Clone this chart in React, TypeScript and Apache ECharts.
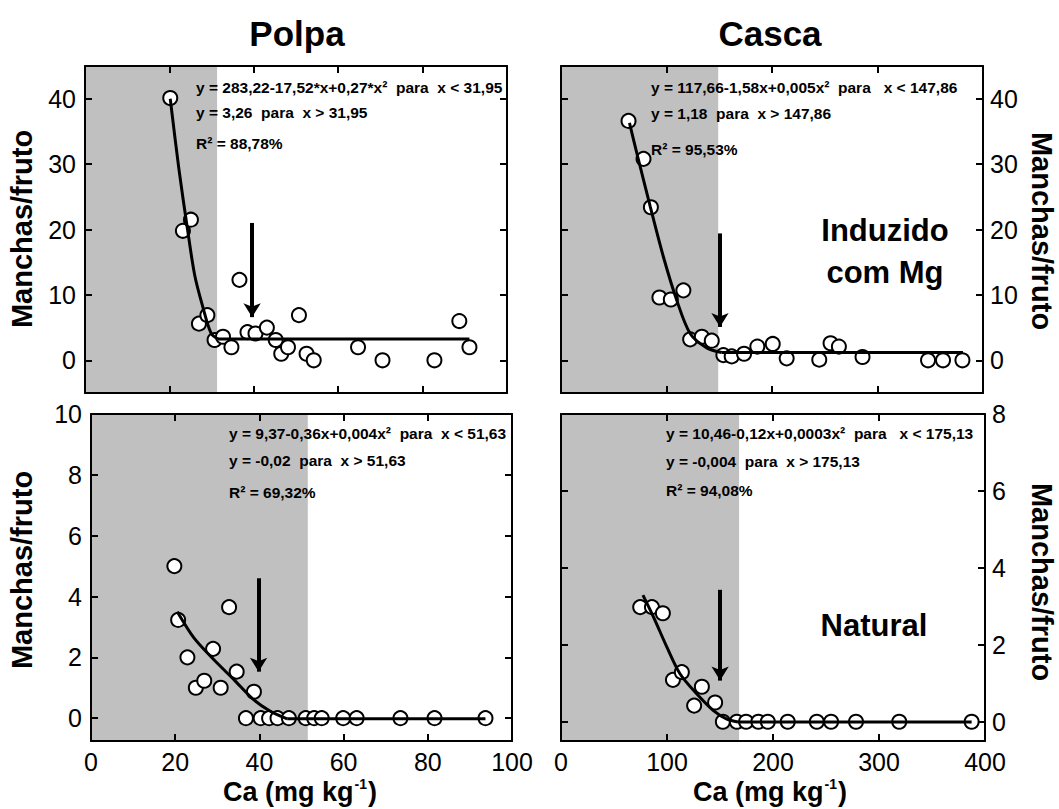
import React, { useEffect, useRef } from "react";
import * as echarts from "echarts";

// ---------- data ----------
const polpaMgX = [20.2, 23.2, 25.1, 27.0, 29.0, 30.7, 32.7, 34.7, 36.6, 38.5, 40.4, 43.1, 45.2, 46.5, 48.1, 50.7, 52.5, 54.2, 64.7, 70.5, 82.8, 88.7, 91.1];
const polpaMgY = [40.1, 19.8, 21.5, 5.6, 6.9, 3.1, 3.6, 2.0, 12.3, 4.3, 4.1, 5.0, 3.1, 1.0, 2.0, 6.9, 1.0, 0, 2.0, 0, 0, 6.0, 2.0];
const polpaMgFitX = [20.2, 22.2, 24.3, 26.0, 27.9, 29.9, 31.5];
const polpaMgFitY = [40, 29.5, 20, 13, 8.2, 4.1, 3.26];
const polpaMgPlateau = [31.5, 91.1, 3.26];

const cascaMgX = [64.0, 78.2, 85.2, 93.3, 104.1, 116.0, 122.4, 133.5, 142.9, 153.9, 161.8, 173.5, 186.1, 200.7, 213.9, 244.8, 255.5, 263.4, 285.8, 347.9, 362.1, 380.5];
const cascaMgY = [36.6, 30.8, 23.4, 9.6, 9.3, 10.7, 3.2, 3.6, 3.0, 0.8, 0.6, 1.0, 2.1, 2.5, 0.3, 0.1, 2.6, 2.1, 0.5, 0, 0, 0];
const cascaMgFitX = [64.9, 72.6, 84.6, 97.1, 109.7, 122.4, 138.2, 152.4];
const cascaMgFitY = [36.3, 31.2, 23.5, 15.8, 9.2, 4.1, 1.9, 1.18];
const cascaMgPlateau = [152.4, 381, 1.18];

const polpaNatX = [19.8, 20.7, 22.9, 24.9, 26.9, 29.0, 30.8, 32.8, 34.6, 38.7, 36.8, 40.3, 42.3, 44.3, 47.0, 51.0, 53.0, 54.8, 59.9, 63.1, 73.5, 81.6, 93.7];
const polpaNatY = [5.0, 3.23, 2.0, 1.0, 1.23, 2.28, 1.0, 3.65, 1.53, 0.87, 0, 0, 0, 0, 0, 0, 0, 0, 0, 0, 0, 0, 0];
const polpaNatFitX = [20.5, 24.5, 29.2, 34.0, 38.7, 42.7, 46.6];
const polpaNatFitY = [3.5, 2.63, 1.92, 1.26, 0.6, 0.22, -0.02];
const polpaNatPlateau = [46.6, 93.7, -0.02];

const cascaNatX = [74.7, 85.8, 96.1, 105.6, 114.0, 132.9, 125.6, 145.4, 152.7, 165.9, 174.6, 186.2, 195.1, 213.9, 241.3, 254.8, 278.3, 319.1, 387.4];
const cascaNatY = [2.98, 2.98, 2.82, 1.09, 1.29, 0.91, 0.42, 0.5, 0, 0, 0, 0, 0, 0, 0, 0, 0, 0, 0];
const cascaNatFitX = [77.3, 87.3, 99.9, 112.4, 128.2, 143.8, 156.5, 167];
const cascaNatFitY = [3.29, 2.72, 1.94, 1.24, 0.72, 0.29, 0.07, -0.004];
const cascaNatPlateau = [167, 387.4, -0.004];

// shaded region end (x), arrow [x, yStart, yEnd]
const shadeEnds = [31.3, 149, 51.5, 168];
const arrows = [
  [39.6, 21, 6.6],
  [150.7, 19.4, 5.1],
  [39.8, 4.6, 1.53],
  [150.1, 3.43, 1.07],
];

// axis ranges and ticks
const xMaxs = [100, 400, 100, 400];
const xIntervals = [20, 100, 20, 100];
const yMins = [-5, -5, -0.75, -0.5];
const yMaxs = [45, 45, 10, 8];
const yTicks = [
  [0, 10, 20, 30, 40],
  [0, 10, 20, 30, 40],
  [0, 2, 4, 6, 8, 10],
  [0, 2, 4, 6, 8],
];

// texts
const titles = ["Polpa", "Casca"];
const yTitle = "Manchas/fruto";
const equations = [
  ["y = 283,22-17,52*x+0,27*x²  para  x < 31,95", "y = 3,26  para  x > 31,95", "R² = 88,78%"],
  ["y = 117,66-1,58x+0,005x²  para   x < 147,86", "y = 1,18  para  x > 147,86", "R² = 95,53%"],
  ["y = 9,37-0,36x+0,004x²  para  x < 51,63", "y = -0,02  para  x > 51,63", "R² = 69,32%"],
  ["y = 10,46-0,12x+0,0003x²  para   x < 175,13", "y = -0,004  para  x > 175,13", "R² = 94,08%"],
];
const treatmentLabels = ["Induzido\ncom Mg", "Natural"];

const FONT = "'Liberation Sans', Arial, Helvetica, sans-serif";

const panelsData = [
  { x: polpaMgX, y: polpaMgY, fx: polpaMgFitX, fy: polpaMgFitY, p: polpaMgPlateau },
  { x: cascaMgX, y: cascaMgY, fx: cascaMgFitX, fy: cascaMgFitY, p: cascaMgPlateau },
  { x: polpaNatX, y: polpaNatY, fx: polpaNatFitX, fy: polpaNatFitY, p: polpaNatPlateau },
  { x: cascaNatX, y: cascaNatY, fx: cascaNatFitX, fy: cascaNatFitY, p: cascaNatPlateau },
];

// layout (px)
const grids = [
  { left: 85, top: 66, width: 422, height: 327 },
  { left: 561, top: 66, width: 422, height: 327 },
  { left: 91, top: 414, width: 421, height: 327 },
  { left: 561, top: 414, width: 424, height: 327 },
];
const eqPos = [
  { x: 196, ys: [87, 112.5, 143.5] },
  { x: 651, ys: [87, 113, 149] },
  { x: 229, ys: [433, 460, 492] },
  { x: 666, ys: [433, 461, 490] },
];

function buildOption() {
  const axisLineStyle = { color: "#000", width: 2 };
  const xAxis: any[] = [];
  const yAxis: any[] = [];
  const series: any[] = [];

  grids.forEach((g, i) => {
    const bottomRow = i >= 2;
    const rightCol = i % 2 === 1;
    const baseX = {
      gridIndex: i,
      type: "value",
      min: 0,
      max: xMaxs[i],
      interval: xIntervals[i],
      splitLine: { show: false },
      axisLine: { show: true, onZero: false, lineStyle: axisLineStyle },
      axisTick: { show: true, inside: true, length: 7, lineStyle: { color: "#000", width: 2 } },
      z: 10,
    };
    xAxis.push({
      ...baseX,
      position: "bottom",
      axisLabel: {
        show: bottomRow,
        color: "#000",
        fontSize: 25,
        fontFamily: FONT,
        margin: 8,
        showMinLabel: true,
        showMaxLabel: true,
      },
    });
    xAxis.push({ ...baseX, position: "top", axisLabel: { show: false } });

    const baseY = {
      gridIndex: i,
      type: "value",
      min: yMins[i],
      max: yMaxs[i],
      splitLine: { show: false },
      axisLine: { show: true, onZero: false, lineStyle: axisLineStyle },
      axisTick: {
        show: true,
        inside: true,
        length: 7,
        customValues: yTicks[i],
        lineStyle: { color: "#000", width: 2 },
      },
      z: 10,
    };
    yAxis.push({
      ...baseY,
      position: rightCol ? "right" : "left",
      axisLabel: {
        show: true,
        color: "#000",
        fontSize: 25,
        fontFamily: FONT,
        margin: rightCol ? 7 : 9,
        customValues: yTicks[i],
      },
    });
    yAxis.push({
      ...baseY,
      position: rightCol ? "left" : "right",
      axisLabel: { show: false },
    });

    const d = panelsData[i];
    const xa = i * 2;
    const ya = i * 2;
    // shaded area
    series.push({
      type: "line",
      xAxisIndex: xa,
      yAxisIndex: ya,
      data: [[0, 0]],
      showSymbol: false,
      symbol: "none",
      lineStyle: { width: 0, opacity: 0 },
      z: 1,
      silent: true,
      markArea: {
        silent: true,
        itemStyle: { color: "#c0c0c0" },
        data: [[{ xAxis: 0 }, { xAxis: shadeEnds[i] }]],
      },
    });
    // points
    series.push({
      type: "scatter",
      xAxisIndex: xa,
      yAxisIndex: ya,
      data: d.x.map((v, k) => [v, d.y[k]]),
      symbol: "circle",
      symbolSize: 14,
      itemStyle: { color: "#fff", borderColor: "#000", borderWidth: 2, opacity: 1 },
      z: 3,
    });
    // fitted curve + arrow
    const a = arrows[i];
    series.push({
      type: "line",
      xAxisIndex: xa,
      yAxisIndex: ya,
      data: d.fx.map((v, k) => [v, d.fy[k]]),
      smooth: 0.3,
      showSymbol: false,
      symbol: "none",
      lineStyle: { color: "#000", width: 3 },
      z: 4,
      markLine: {
        silent: true,
        symbol: ["none", "arrow"],
        symbolSize: [13, 14],
        label: { show: false },
        lineStyle: { color: "#000", width: 4, type: "solid" },
        data: [[{ coord: [a[0], a[1]] }, { coord: [a[0], a[2]] }]],
      },
    });
    // plateau
    series.push({
      type: "line",
      xAxisIndex: xa,
      yAxisIndex: ya,
      data: [[d.p[0], d.p[2]], [d.p[1], d.p[2]]],
      showSymbol: false,
      symbol: "none",
      lineStyle: { color: "#000", width: 3 },
      z: 4,
    });
  });

  const graphic: any[] = [];
  const center = { align: "center", verticalAlign: "middle", textAlign: "center", textVerticalAlign: "middle" };
  // titles
  graphic.push({ type: "text", x: 297, y: 33, style: { text: titles[0], fill: "#000", font: `bold 35px ${FONT}`, ...center } });
  graphic.push({ type: "text", x: 770, y: 33, style: { text: titles[1], fill: "#000", font: `bold 35px ${FONT}`, ...center } });
  // y titles
  const yTitlePos = [
    { x: 22, y: 229, r: Math.PI / 2 },
    { x: 1042, y: 231, r: -Math.PI / 2 },
    { x: 22, y: 570, r: Math.PI / 2 },
    { x: 1042, y: 582, r: -Math.PI / 2 },
  ];
  yTitlePos.forEach((p) => {
    graphic.push({
      type: "text",
      x: p.x,
      y: p.y,
      rotation: p.r,
      style: { text: yTitle, fill: "#000", font: `bold 29px ${FONT}`, lineHeight: 29, ...center },
    });
  });
  // x titles
  [300, 770].forEach((cx) => {
    graphic.push({
      type: "text",
      x: cx,
      y: 791,
      style: {
        text: "{a|Ca (mg kg}{s|-1}{a|)}",
        fill: "#000",
        ...center,
        rich: {
          a: { font: `bold 27px ${FONT}`, fill: "#000", lineHeight: 28, verticalAlign: "bottom" },
          s: { font: `bold 14px ${FONT}`, fill: "#000", lineHeight: 28, verticalAlign: "top", padding: [0, 1, 0, 1] },
        },
      },
    });
  });
  // equations
  eqPos.forEach((p, i) => {
    equations[i].forEach((t, k) => {
      graphic.push({
        type: "text",
        x: p.x,
        y: p.ys[k],
        z: 20,
        style: { text: t, fill: "#000", font: `bold 15.5px ${FONT}`, align: "left", verticalAlign: "middle", textAlign: "left", textVerticalAlign: "middle" },
      });
    });
  });
  // treatment labels
  graphic.push({ type: "text", x: 885, y: 251, z: 20, style: { text: treatmentLabels[0], fill: "#000", font: `bold 31px ${FONT}`, lineHeight: 42, ...center } });
  graphic.push({ type: "text", x: 874, y: 625, z: 20, style: { text: treatmentLabels[1], fill: "#000", font: `bold 31px ${FONT}`, ...center } });

  return {
    animation: false,
    backgroundColor: "#fff",
    grid: grids.map((g) => ({ ...g, containLabel: false })),
    xAxis,
    yAxis,
    series,
    graphic,
  };
}

export default function App() {
  const ref = useRef<HTMLDivElement>(null);
  useEffect(() => {
    if (!ref.current) return;
    const chart = echarts.init(ref.current, undefined, { renderer: "svg" });
    chart.setOption(buildOption() as any);
    return () => chart.dispose();
  }, []);
  return (
    <div
      ref={ref}
      style={{ position: "fixed", left: 0, top: 0, width: 1059, height: 809, background: "#fff" }}
    />
  );
}
